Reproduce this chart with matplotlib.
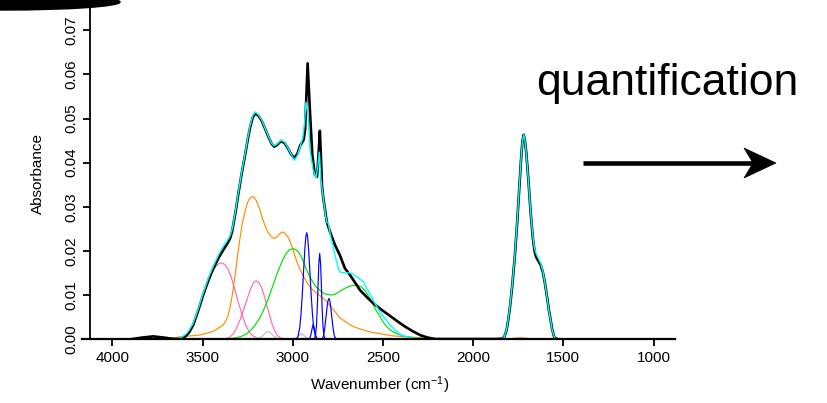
"""
IR spectrum with fitted component bands and "quantification" arrow
"""

# ==========================================================
# IMPORTS
# ==========================================================

import matplotlib
matplotlib.use("Agg")

import matplotlib.pyplot as plt
from matplotlib.patches import Ellipse, Polygon
from matplotlib.lines import Line2D

plt.rcParams["font.family"] = ["Liberation Sans", "DejaVu Sans"]
plt.rcParams["mathtext.fontset"] = "custom"
plt.rcParams["mathtext.rm"] = "Liberation Sans"
plt.rcParams["mathtext.it"] = "Liberation Sans:italic"

# ==========================================================
# DATA
# ==========================================================

# measured spectrum (black)
wn_black = [3890, 3840, 3775, 3710, 3660,
            3640, 3620, 3598, 3575, 3552, 3525, 3497, 3470, 3441, 3413,
            3386, 3365, 3348, 3338, 3330, 3316, 3303, 3285, 3265, 3250,
            3238, 3222, 3208, 3192, 3173, 3155, 3136, 3118, 3103, 3085,
            3065, 3045, 3027, 3008, 2992, 2975, 2960, 2951, 2940, 2932,
            2918, 2905, 2892, 2878, 2866, 2857, 2850, 2843, 2838, 2831,
            2812, 2794, 2766, 2739, 2725, 2711, 2683, 2655, 2628, 2590,
            2554, 2517, 2480, 2443, 2406, 2370, 2332, 2290, 2249, 2212,
            1860, 1840, 1829, 1815, 1805, 1796, 1785, 1775, 1768, 1756,
            1744, 1735, 1727, 1720, 1713, 1705, 1694, 1682, 1670, 1660,
            1652, 1640, 1626, 1614, 1602, 1590, 1580, 1574, 1562, 1552,
            1546, 1530]
abs_black = [0, 0.0003, 0.0006, 0.0003, 0,
             0, 0.0001, 0.0005, 0.0015, 0.0032, 0.0064, 0.0100, 0.0131, 0.0160, 0.0183,
             0.0202, 0.0215, 0.0228, 0.0242, 0.0259, 0.0292, 0.0327, 0.0372, 0.0417, 0.0452,
             0.0478, 0.0503, 0.0511, 0.0507, 0.0495, 0.0478, 0.0459, 0.0443, 0.0436, 0.0441,
             0.0449, 0.0444, 0.0432, 0.0418, 0.0410, 0.0420, 0.0438, 0.0444, 0.0452, 0.0475,
             0.0625, 0.0516, 0.0417, 0.0373, 0.0368, 0.0420, 0.0472, 0.0400, 0.0345, 0.0319,
             0.0266, 0.0243, 0.0213, 0.0190, 0.0175, 0.0160, 0.0145, 0.0128, 0.0111, 0.0095,
             0.0081, 0.0069, 0.0058, 0.0047, 0.0036, 0.0026, 0.0017, 0.0008, 0.0003, 0,
             0, 0.0001, 0.0003, 0.0020, 0.0045, 0.0073, 0.0115, 0.0160, 0.0194, 0.0265,
             0.0345, 0.0405, 0.0448, 0.0463, 0.0450, 0.0420, 0.0361, 0.0290, 0.0232, 0.0200,
             0.0187, 0.0178, 0.0168, 0.0152, 0.0126, 0.0094, 0.0065, 0.0051, 0.0022, 0.0006,
             0.0002, 0]

# total fit (cyan)
wn_fit = [3900, 3660, 3620, 3590, 3575, 3552, 3525, 3497, 3470, 3441,
          3413, 3386, 3365, 3348, 3338, 3330, 3316, 3303, 3285, 3265,
          3250, 3238, 3222, 3208, 3192, 3173, 3155, 3136, 3118, 3103,
          3085, 3065, 3045, 3027, 3008, 2992, 2975, 2960, 2945, 2935,
          2927, 2916, 2905, 2887, 2872, 2862, 2853, 2845, 2831, 2820,
          2812, 2803, 2794, 2784, 2766, 2748, 2735, 2711, 2683, 2665,
          2646, 2628, 2609, 2590, 2572, 2554, 2535, 2516, 2498, 2470,
          2443, 2405, 2369, 2330, 2295, 2250,
          1860, 1840, 1829, 1815, 1805, 1796, 1785, 1775, 1768, 1756,
          1744, 1735, 1727, 1720, 1713, 1705, 1694, 1682, 1670, 1660,
          1652, 1640, 1626, 1614, 1602, 1590, 1580, 1574, 1562, 1552,
          1546, 1530, 900]
abs_fit = [0, 0, 0.0003, 0.0012, 0.0020, 0.0036, 0.0068, 0.0104, 0.0136, 0.0165,
           0.0190, 0.0210, 0.0222, 0.0234, 0.0247, 0.0262, 0.0295, 0.0330, 0.0375, 0.0420,
           0.0455, 0.0482, 0.0507, 0.0515, 0.0509, 0.0497, 0.0479, 0.0460, 0.0444, 0.0438,
           0.0443, 0.0451, 0.0446, 0.0433, 0.0418, 0.0405, 0.0416, 0.0435, 0.0455, 0.0490,
           0.0537, 0.0510, 0.0429, 0.0383, 0.0365, 0.0390, 0.0424, 0.0365, 0.0318, 0.0285,
           0.0265, 0.0262, 0.0240, 0.0222, 0.0190, 0.0160, 0.0151, 0.0150, 0.0150, 0.0147,
           0.0141, 0.0136, 0.0130, 0.0115, 0.0102, 0.0088, 0.0074, 0.0061, 0.0051, 0.0037,
           0.0024, 0.0010, 0.0005, 0.0002, 0.0001, 0,
           0, 0.0001, 0.0003, 0.0021, 0.0047, 0.0075, 0.0117, 0.0162, 0.0196, 0.0267,
           0.0347, 0.0406, 0.0448, 0.0463, 0.0450, 0.0419, 0.0360, 0.0291, 0.0235, 0.0205,
           0.0195, 0.0184, 0.0172, 0.0154, 0.0126, 0.0093, 0.0064, 0.0050, 0.0021, 0.0006,
           0.0002, 0, 0]

# components
wn_orange = [3700, 3626, 3515, 3441, 3386, 3370, 3358, 3348, 3340, 3330,
             3320, 3307, 3293, 3280, 3265, 3255, 3247, 3236, 3225, 3215,
             3205, 3194, 3182, 3164, 3150, 3135, 3120, 3103, 3090, 3075,
             3062, 3050, 3038, 3025, 3010, 2995, 2975, 2955, 2930, 2905,
             2880, 2849, 2820, 2794, 2766, 2739, 2711, 2683, 2650, 2628,
             2572, 2517, 2443, 2332, 2200, 2100,
             1800, 1770, 1740, 1710, 1680]
abs_orange = [0, 0.0005, 0.0009, 0.0017, 0.0032, 0.0042, 0.0055, 0.0072, 0.0090, 0.0115,
              0.0145, 0.0188, 0.0228, 0.0262, 0.0289, 0.0304, 0.0313, 0.0320, 0.0323, 0.0321,
              0.0316, 0.0305, 0.0292, 0.0268, 0.0253, 0.0240, 0.0232, 0.0228, 0.0231, 0.0238,
              0.0242, 0.0242, 0.0237, 0.0230, 0.0216, 0.0197, 0.0172, 0.0153, 0.0134, 0.0118,
              0.0108, 0.0098, 0.0088, 0.0075, 0.0062, 0.0048, 0.0040, 0.0032, 0.0026, 0.0023,
              0.0016, 0.0012, 0.0007, 0.0004, 0.0001, 0,
              0, 0.0002, 0.0003, 0.0002, 0]

wn_green = [3400, 3350, 3311, 3285, 3260, 3240, 3219, 3200, 3182, 3164,
            3145, 3127, 3108, 3090, 3070, 3053, 3035, 3020, 3001, 2985,
            2970, 2955, 2940, 2925, 2905, 2887, 2870, 2849, 2830, 2812,
            2795, 2778, 2760, 2739, 2711, 2683, 2660, 2640, 2620, 2600,
            2580, 2560, 2540, 2517, 2500, 2480, 2455, 2424, 2390, 2350,
            2295, 2240]
abs_green = [0, 0.0001, 0.0003, 0.0006, 0.0011, 0.0017, 0.0026, 0.0037, 0.0049, 0.0064,
             0.0082, 0.0102, 0.0124, 0.0145, 0.0166, 0.0182, 0.0195, 0.0202, 0.0205, 0.0203,
             0.0198, 0.0188, 0.0174, 0.0158, 0.0140, 0.0128, 0.0118, 0.0110, 0.0104, 0.0101,
             0.0100, 0.0100, 0.0103, 0.0108, 0.0115, 0.0120, 0.0122, 0.0122, 0.0118, 0.0110,
             0.0097, 0.0082, 0.0066, 0.0051, 0.0039, 0.0028, 0.0019, 0.0012, 0.0007, 0.0004,
             0.0001, 0]

wn_pink1 = [3660, 3630, 3607, 3585, 3565, 3545, 3525, 3505, 3485, 3465,
            3445, 3425, 3405, 3390, 3375, 3358, 3340, 3320, 3300, 3280,
            3260, 3240, 3220, 3200, 3180]
abs_pink1 = [0, 0.0002, 0.0005, 0.0012, 0.0024, 0.0042, 0.0065, 0.0090, 0.0113, 0.0135,
             0.0153, 0.0166, 0.0172, 0.0172, 0.0168, 0.0157, 0.0138, 0.0110, 0.0080, 0.0053,
             0.0030, 0.0015, 0.0007, 0.0002, 0]

wn_pink2 = [3380, 3350, 3330, 3310, 3290, 3270, 3250, 3232, 3216, 3204,
            3190, 3175, 3160, 3145, 3130, 3115, 3100, 3085, 3070, 3050]
abs_pink2 = [0, 0.0004, 0.0012, 0.0026, 0.0046, 0.0070, 0.0095, 0.0116, 0.0129, 0.0132,
             0.0129, 0.0118, 0.0100, 0.0078, 0.0055, 0.0034, 0.0018, 0.0008, 0.0003, 0]

wn_gray1 = [3205, 3185, 3170, 3155, 3145, 3136, 3127, 3118, 3103, 3088, 3070]
abs_gray1 = [0, 0.0002, 0.0006, 0.0012, 0.0016, 0.0017, 0.0016, 0.0012, 0.0006, 0.0002, 0]

wn_gray2 = [2992, 2978, 2965, 2951, 2938, 2925, 2910]
abs_gray2 = [0, 0.0003, 0.0008, 0.0012, 0.0008, 0.0003, 0]

wn_blue1 = [2978, 2970, 2962, 2955, 2948, 2941, 2934, 2928, 2923,
            2918, 2912, 2905, 2898, 2891, 2884, 2876, 2868]
abs_blue1 = [0, 0.0008, 0.0025, 0.0055, 0.0098, 0.0150, 0.0200, 0.0232, 0.0241,
             0.0232, 0.0200, 0.0150, 0.0098, 0.0055, 0.0025, 0.0008, 0]

wn_blue2 = [2882, 2875, 2869, 2864, 2860, 2856, 2851, 2846, 2842, 2838, 2833, 2827, 2820]
abs_blue2 = [0, 0.0006, 0.0030, 0.0075, 0.0125, 0.0170, 0.0194, 0.0170, 0.0125, 0.0075,
             0.0030, 0.0006, 0]

wn_blue3 = [2838, 2830, 2823, 2816, 2810, 2805, 2800, 2795, 2790, 2784, 2777, 2770, 2760, 2750]
abs_blue3 = [0, 0.0007, 0.0025, 0.0050, 0.0073, 0.0087, 0.0092, 0.0087, 0.0073, 0.0050,
             0.0025, 0.0007, 0.0001, 0]

wn_blue4 = [2910, 2902, 2895, 2887, 2879, 2872, 2864]
abs_blue4 = [0, 0.0006, 0.0020, 0.0034, 0.0020, 0.0006, 0]

x_ticks = [4000, 3500, 3000, 2500, 2000, 1500, 1000]
y_ticks = [0.00, 0.01, 0.02, 0.03, 0.04, 0.05, 0.06, 0.07]

# ==========================================================
# FIGURE
# ==========================================================

W, H = 827, 403
FS = 11


def fig_xy(px, py):
    # pixel position (from top-left) -> figure fraction
    return px / W, 1 - py / H


fig = plt.figure(figsize=(W / 100, H / 100), dpi=100)

ax = fig.add_axes([82 / W, 64 / H, 593 / W, 339 / H])

ax.set_xlim(4169, 881)
ax.set_ylim(0, 339 / 4410)

# components
comp_lw = 0.85

ax.plot(wn_gray1, abs_gray1, color="#bebebe", lw=comp_lw)
ax.plot(wn_gray2, abs_gray2, color="#bebebe", lw=comp_lw)
ax.plot(wn_pink1, abs_pink1, color="#ff69b4", lw=comp_lw)
ax.plot(wn_pink2, abs_pink2, color="#ff69b4", lw=comp_lw)
ax.plot(wn_orange, abs_orange, color="#ff8c00", lw=comp_lw)
ax.plot(wn_green, abs_green, color="#00e000", lw=comp_lw)
ax.plot(wn_blue1, abs_blue1, color="#0000ff", lw=comp_lw)
ax.plot(wn_blue2, abs_blue2, color="#0000ff", lw=comp_lw)
ax.plot(wn_blue3, abs_blue3, color="#0000ff", lw=comp_lw)
ax.plot(wn_blue4, abs_blue4, color="#0000ff", lw=comp_lw)

# spectrum and fit
ax.plot(wn_black, abs_black, color="black", lw=1.9, solid_joinstyle="round")
ax.plot(wn_fit, abs_fit, color="#00ffff", lw=1.0, solid_joinstyle="round")

# ==========================================================
# AXES
# ==========================================================

for side in ["top", "right"]:
    ax.spines[side].set_visible(False)

ax.spines["left"].set_position(("data", 4125))
ax.spines["left"].set_bounds(0, 339 / 4410)
ax.spines["left"].set_linewidth(1.3)
ax.spines["bottom"].set_linewidth(1.6)

ax.set_xticks(x_ticks)
ax.set_xticklabels([str(t) for t in x_ticks])
ax.set_yticks(y_ticks)
ax.set_yticklabels([f"{t:.2f}" for t in y_ticks])

ax.tick_params(axis="both", direction="out", length=5, width=1.3,
               labelsize=FS, pad=3.6)

for label in ax.get_yticklabels():
    label.set_rotation(90)
    label.set_va("center")
    label.set_ha("right")

ax.set_xlabel(r"Wavenumber (cm$^{-1}$)", fontsize=FS)
ax.xaxis.set_label_coords((380 - 82) / 593, (339 - 385) / 339)
ax.xaxis.label.set_va("center")

ax.set_ylabel("Absorbance", fontsize=FS)
ax.yaxis.set_label_coords((38 - 82) / 593, (339 - 174) / 339)
ax.yaxis.label.set_va("center")

# ==========================================================
# ANNOTATION
# ==========================================================

fig.text(*fig_xy(667, 95), "quantification", fontsize=32,
         ha="center", va="baseline")

# arrow shaft
sx0, sy = fig_xy(583, 163)
sx1, _ = fig_xy(754, 163)
fig.add_artist(
    Line2D([sx0, sx1], [sy, sy], transform=fig.transFigure,
           lw=3.3, color="black", solid_capstyle="butt")
)

# arrow head
fig.patches.append(
    Polygon([fig_xy(776, 163), fig_xy(744, 148), fig_xy(753, 163), fig_xy(744, 178)],
            closed=True, transform=fig.transFigure, facecolor="black",
            edgecolor="black", lw=0.5)
)

# cut-off dark shape in the top-left corner
fig.patches.append(
    Ellipse(fig_xy(5, 2), 230 / W, 16 / H,
            transform=fig.transFigure, color="black")
)

fig.savefig("out.png", dpi=100)
